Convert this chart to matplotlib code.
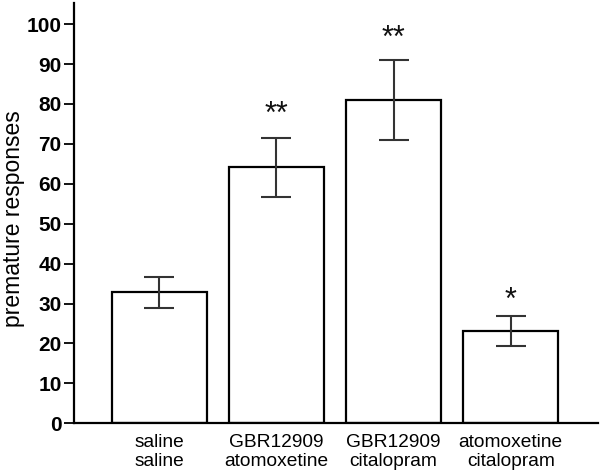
import matplotlib
matplotlib.use("Agg")
import matplotlib.pyplot as plt

categories = ["saline\nsaline", "GBR12909\natomoxetine", "GBR12909\ncitalopram", "atomoxetine\ncitalopram"]
values = [32.8, 64.1, 81.0, 23.2]
errors = [3.8, 7.5, 10.1, 3.8]
stars = ["", "**", "**", "*"]
star_y = [None, 78.8, 97.8, 32.2]
yticks = [0, 10, 20, 30, 40, 50, 60, 70, 80, 90, 100]

plt.rcParams['font.family'] = ['Liberation Sans', 'DejaVu Sans']
fig = plt.figure(figsize=(6, 4.74), dpi=100)
ax = fig.add_axes([74/600, 1-423.3/474, (598-74)/600, (423.3-3)/474])

x = list(range(len(categories)))
ax.bar(x, values, width=0.81, color='white', edgecolor='black', linewidth=1.6, zorder=2)
ax.errorbar(x, values, yerr=errors, fmt='none', ecolor='#333333', elinewidth=1.5,
            capsize=10.5, capthick=1.5, zorder=3)
for xi, s, sy in zip(x, stars, star_y):
    if s:
        ax.text(xi, sy - 1.6, s, ha='center', va='center', fontsize=22, color='#111111')

ax.set_xlim(-0.728, 3.745)
ax.set_ylim(0, 105.3)
ax.set_yticks(yticks)
ax.set_yticklabels([str(t) for t in yticks], fontsize=15, fontweight='bold')
ax.set_xticks(x)
ax.set_xticklabels(categories, fontsize=13.8, linespacing=1.1)
ax.tick_params(axis='x', length=0, pad=8)
ax.tick_params(axis='y', length=7, width=1.3, pad=2)
for sp in ['top', 'right']:
    ax.spines[sp].set_visible(False)
for sp in ['left', 'bottom']:
    ax.spines[sp].set_linewidth(1.6)
ax.set_ylabel("premature responses", fontsize=16.5)
ax.yaxis.set_label_coords(-0.094, 0.486)

fig.savefig("out.png", dpi=100)
